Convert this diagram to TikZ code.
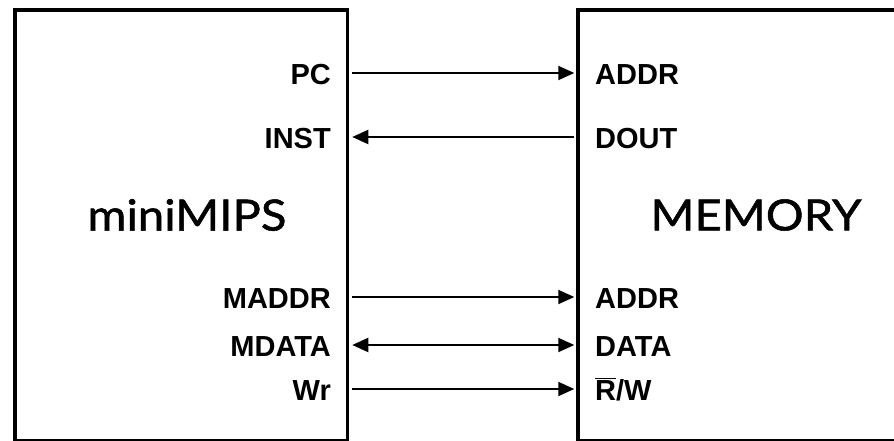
\documentclass[tikz,border=0pt]{standalone}
\usepackage{fontspec}
\setmainfont{Liberation Sans}
\newfontfamily\casualfont{Lato}[FakeStretch=1.1,FakeBold=1.2]
\usetikzlibrary{arrows.meta}

\begin{document}
\begin{tikzpicture}[x=1pt,y=-1pt,>={Triangle[length=16pt,width=14pt]},unit/.style={draw, line width=3.5pt, minimum height=430.5pt, inner sep=0pt},port/.style={font=\bfseries\fontsize{29}{29}\selectfont, inner sep=0pt},title/.style={font=\casualfont\fontsize{43}{43}\selectfont, inner sep=0pt},sig/.style={line width=2pt, shorten <=3pt, shorten >=2pt}]
\useasboundingbox (0,0) rectangle (894,440);
\clip (0,0) rectangle (894,440);
\node[unit, minimum width=332.5pt] (cpu) at (181.25,225.25) {};
\node[unit, minimum width=420pt] (mem) at (788,225.25) {};
\node[title] (cpuname) at (187,215) {miniMIPS};
\node[title] (memname) at (756,215) {MEMORY};
\foreach \lft/\rgt/\y/\n/\dir in {PC/ADDR/73/a/->, INST/DOUT/137/b/<-, MADDR/ADDR/297/c/->, MDATA/DATA/345/d/<->, Wr/{$\overline{\hbox{R}}$/W}/389/e/->} {\coordinate (row\n) at (0,\y);\node[port, anchor=base east] (l\n) at (331,\y+11) {\lft};\node[port, anchor=base west] (r\n) at (595,\y+11) {\rgt};\draw[sig, \dir] (cpu.east |- row\n) -- (mem.west |- row\n);}
\end{tikzpicture}
\end{document}
